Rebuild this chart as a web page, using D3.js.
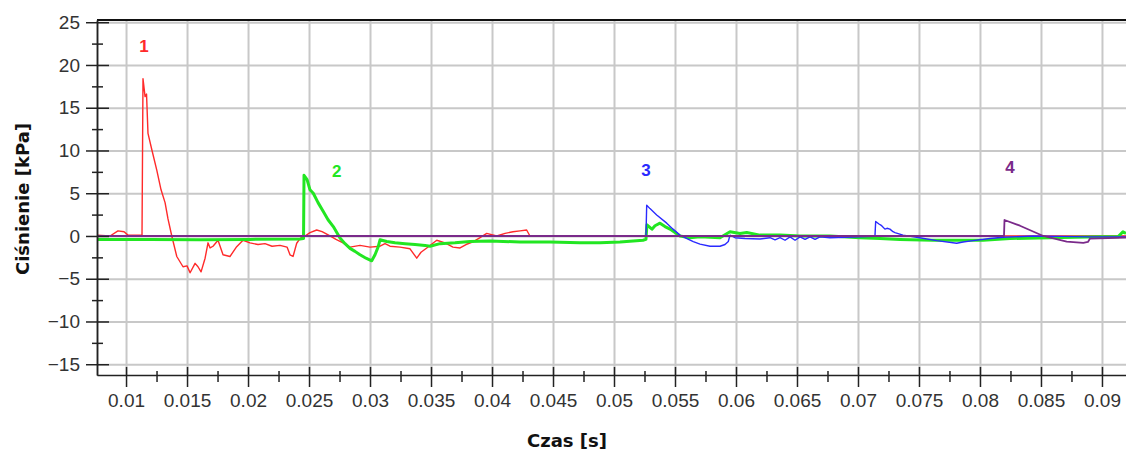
<!DOCTYPE html>
<html>
<head>
<meta charset="utf-8">
<script src="https://cdn.jsdelivr.net/npm/d3@7"></script>
<style>
  html, body { margin: 0; padding: 0; background: #fff; }
  .tick text { font-family: "Liberation Sans", Arial, sans-serif; font-size: 19px; fill: #333; }
  .axis path, .axis line { stroke: #222; stroke-width: 1.5; }
  .grid line { stroke: #c8c8c8; stroke-width: 2; }
  .grid path { display: none; }
  .title { font-family: "DejaVu Sans", sans-serif; font-weight: bold; font-size: 18px; fill: #111; }
  .tag { font-family: "Liberation Sans", Arial, sans-serif; font-weight: bold; font-size: 17px; }
</style>
</head>
<body>
<div id="chart"></div>
<script>
// time [s] and pressure [kPa] for each measuring point
const t1 = [0.00762, 0.00869, 0.00934, 0.00984, 0.01016, 0.01115, 0.01131, 0.01139, 0.01156, 0.01168, 0.01180, 0.01213, 0.01252, 0.01287, 0.01320, 0.01344, 0.01375, 0.01416, 0.01467, 0.01500, 0.01525, 0.01566, 0.01590, 0.01615, 0.01648, 0.01672, 0.01689, 0.01713, 0.01754, 0.01795, 0.01852, 0.01907, 0.01959, 0.02016, 0.02082, 0.02139, 0.02197, 0.02262, 0.02320, 0.02344, 0.02369, 0.02399, 0.02426, 0.02467, 0.02508, 0.02563, 0.02607, 0.02672, 0.02721, 0.02779, 0.02836, 0.02918, 0.03000, 0.03082, 0.03123, 0.03164, 0.03246, 0.03328, 0.03383, 0.03418, 0.03465, 0.03547, 0.03615, 0.03680, 0.03738, 0.03787, 0.03844, 0.03902, 0.03957, 0.04039, 0.04107, 0.04172, 0.04230, 0.04284, 0.04311, 0.09197];
const p1 = [0.1, 0.0, 0.6, 0.5, 0.1, 0.1, 0.1, 18.4, 16.3, 16.6, 12.0, 10.0, 7.7, 5.4, 3.9, 2.0, 0.0, -2.4, -3.6, -3.5, -4.3, -3.2, -3.6, -4.2, -2.6, -0.8, -1.4, -1.2, -0.5, -2.2, -2.4, -1.25, -0.5, -0.8, -1.0, -0.9, -1.2, -1.1, -1.3, -2.2, -2.4, -0.85, -0.3, 0.0, 0.4, 0.7, 0.5, 0.0, -0.4, -0.8, -1.3, -1.1, -1.3, -1.2, -0.9, -1.2, -1.3, -1.5, -2.6, -1.9, -1.4, -0.5, -0.8, -1.3, -1.4, -1.0, -0.7, -0.2, 0.3, 0.0, 0.3, 0.5, 0.6, 0.7, 0.0, 0.0];

const t2 = [0.00762, 0.01197, 0.01607, 0.02016, 0.02426, 0.02455, 0.02459, 0.02484, 0.02508, 0.02535, 0.02574, 0.02617, 0.02656, 0.02699, 0.02754, 0.02795, 0.02836, 0.02877, 0.02918, 0.02967, 0.03014, 0.03041, 0.03066, 0.03082, 0.03137, 0.03205, 0.03287, 0.03369, 0.03451, 0.03492, 0.03574, 0.03697, 0.03820, 0.03984, 0.04230, 0.04475, 0.04721, 0.04885, 0.05049, 0.05238, 0.05262, 0.05270, 0.05311, 0.05336, 0.05377, 0.05418, 0.05459, 0.05541, 0.05623, 0.05705, 0.05869, 0.05951, 0.06033, 0.06088, 0.06197, 0.06361, 0.06525, 0.06770, 0.07016, 0.07180, 0.07344, 0.07615, 0.07836, 0.08025, 0.08246, 0.08574, 0.08984, 0.09131, 0.09172, 0.09197];
const p2 = [-0.4, -0.4, -0.45, -0.4, -0.35, -0.3, 7.1, 6.6, 5.4, 5.0, 3.9, 2.85, 1.9, 1.1, -0.25, -0.9, -1.45, -1.8, -2.2, -2.6, -2.9, -2.2, -1.3, -0.45, -0.65, -0.8, -0.9, -1.0, -1.1, -1.2, -0.9, -0.8, -0.65, -0.6, -0.7, -0.7, -0.8, -0.8, -0.7, -0.5, -0.4, 1.3, 0.8, 1.2, 1.5, 1.1, 0.8, 0.0, -0.2, -0.1, -0.2, 0.5, 0.3, 0.4, 0.1, 0.1, 0.0, 0.0, -0.2, -0.3, -0.4, -0.5, -0.5, -0.5, -0.3, -0.2, -0.1, -0.1, 0.5, 0.3];

const t3 = [0.00762, 0.05262, 0.05268, 0.05295, 0.05350, 0.05432, 0.05484, 0.05541, 0.05598, 0.05650, 0.05705, 0.05787, 0.05869, 0.05910, 0.05937, 0.05951, 0.05992, 0.06074, 0.06197, 0.06279, 0.06320, 0.06361, 0.06402, 0.06443, 0.06484, 0.06525, 0.06566, 0.06607, 0.06648, 0.06689, 0.06770, 0.06893, 0.07016, 0.07139, 0.07145, 0.07172, 0.07194, 0.07221, 0.07238, 0.07262, 0.07287, 0.07303, 0.07369, 0.07481, 0.07645, 0.07809, 0.07861, 0.07943, 0.08082, 0.08189, 0.08434, 0.08656, 0.08902, 0.09197];
const p3 = [0.0, 0.0, 3.6, 3.2, 2.45, 1.5, 0.8, 0.1, -0.3, -0.65, -0.95, -1.2, -1.2, -1.0, -0.65, 0.1, -0.2, -0.3, -0.35, -0.2, -0.45, -0.2, -0.5, -0.1, -0.5, -0.1, -0.4, -0.1, -0.4, -0.1, -0.2, -0.15, -0.1, -0.05, 1.7, 1.4, 1.2, 0.8, 0.9, 0.8, 0.5, 0.4, 0.1, -0.15, -0.55, -0.85, -0.7, -0.55, -0.3, -0.15, 0.0, -0.05, -0.1, -0.1];

const t4 = [0.00762, 0.08197, 0.08201, 0.08328, 0.08519, 0.08711, 0.08847, 0.08885, 0.08902, 0.09197];
const p4 = [0.0, 0.0, 1.87, 1.2, 0.0, -0.65, -0.8, -0.7, -0.3, -0.2];

const seriesNames = ['1', '2', '3', '4'];
const seriesColors = ['#ff2a2a', '#22e622', '#2a2aff', '#7a2a8a'];
// where the number tags sit (time, pressure)
const tagT = [0.01148, 0.02727, 0.05262, 0.08246];
const tagP = [21.5, 6.9, 7.0, 7.4];

const xTicks = [0.01, 0.015, 0.02, 0.025, 0.03, 0.035, 0.04, 0.045, 0.05, 0.055, 0.06, 0.065, 0.07, 0.075, 0.08, 0.085, 0.09];
const xTickLabels = ['0.01', '0.015', '0.02', '0.025', '0.03', '0.035', '0.04', '0.045', '0.05', '0.055', '0.06', '0.065', '0.07', '0.075', '0.08', '0.085', '0.09'];
const xMinor = [0.0125, 0.0175, 0.0225, 0.0275, 0.0325, 0.0375, 0.0425, 0.0475, 0.0525, 0.0575, 0.0625, 0.0675, 0.0725, 0.0775, 0.0825, 0.0875];
const yTicks = [-15, -10, -5, 0, 5, 10, 15, 20, 25];
const yMinor = [-12.5, -7.5, -2.5, 2.5, 7.5, 12.5, 17.5, 22.5];

const width = 1126, height = 451;
const margin = { top: 20, right: 0, bottom: 76, left: 97 };
const innerW = width - margin.left - margin.right;
const innerH = height - margin.top - margin.bottom;

const svg = d3.select('#chart').append('svg')
  .attr('width', width)
  .attr('height', height);

const g = svg.append('g')
  .attr('transform', `translate(${margin.left},${margin.top})`);

const x = d3.scaleLinear().domain([0.00762, 0.09197]).range([0, innerW]);
const y = d3.scaleLinear().domain([-16.26, 25.26]).range([innerH, 0]);

// Grid
g.append('g')
  .attr('class', 'grid')
  .attr('transform', `translate(0,${innerH})`)
  .call(d3.axisBottom(x).tickValues(xTicks).tickSize(-innerH).tickFormat(''));
g.append('g')
  .attr('class', 'grid')
  .call(d3.axisLeft(y).tickValues(yTicks).tickSize(-innerW).tickFormat(''));

// Top border
g.append('line')
  .attr('x1', 0).attr('x2', innerW)
  .attr('y1', y(y.domain()[1])).attr('y2', y(y.domain()[1]))
  .attr('stroke', '#111').attr('stroke-width', 2);

// Lines
g.append('clipPath').attr('id', 'clip')
  .append('rect').attr('width', innerW).attr('height', innerH);

const line = d3.line()
  .x(d => x(d[0]))
  .y(d => y(d[1]));

const allT = [t1, t2, t3, t4];
const allP = [p1, p2, p3, p4];
const widths = [1.4, 3, 1.4, 1.8];

allT.forEach((ts, i) => {
  g.append('path')
    .datum(ts.map((t, j) => [t, allP[i][j]]))
    .attr('clip-path', 'url(#clip)')
    .attr('fill', 'none')
    .attr('stroke', seriesColors[i])
    .attr('stroke-width', widths[i])
    .attr('stroke-linejoin', 'round')
    .attr('d', line);
});

// Tags
seriesNames.forEach((name, i) => {
  g.append('text')
    .attr('class', 'tag')
    .attr('x', x(tagT[i]))
    .attr('y', y(tagP[i]))
    .attr('text-anchor', 'middle')
    .attr('fill', seriesColors[i])
    .text(name);
});

// Axes
g.append('g')
  .attr('class', 'axis')
  .call(d3.axisLeft(y).tickValues(yTicks).tickSize(11).tickSizeOuter(0).tickPadding(6));
g.append('g')
  .attr('class', 'axis')
  .call(d3.axisRight(y).tickValues(yTicks).tickSize(12).tickSizeOuter(0).tickFormat(''));
g.append('g')
  .attr('class', 'axis')
  .call(d3.axisLeft(y).tickValues(yMinor).tickSize(5).tickSizeOuter(0).tickFormat(''))
  .call(a => a.select('.domain').remove());
g.append('g')
  .attr('class', 'axis')
  .call(d3.axisRight(y).tickValues(yMinor).tickSize(6).tickSizeOuter(0).tickFormat(''))
  .call(a => a.select('.domain').remove());

g.append('g')
  .attr('class', 'axis')
  .attr('transform', `translate(0,${innerH})`)
  .call(d3.axisBottom(x).tickValues(xTicks).tickSize(12).tickSizeOuter(0).tickPadding(7)
    .tickFormat((d, i) => xTickLabels[i]));
g.append('g')
  .attr('class', 'axis')
  .attr('transform', `translate(0,${innerH})`)
  .call(d3.axisTop(x).tickValues(xTicks).tickSize(8).tickSizeOuter(0).tickFormat(''))
  .call(a => a.select('.domain').remove());
g.append('g')
  .attr('class', 'axis')
  .attr('transform', `translate(0,${innerH})`)
  .call(d3.axisBottom(x).tickValues(xMinor).tickSize(7).tickSizeOuter(0).tickFormat(''))
  .call(a => a.select('.domain').remove());
g.append('g')
  .attr('class', 'axis')
  .attr('transform', `translate(0,${innerH})`)
  .call(d3.axisTop(x).tickValues(xMinor).tickSize(4).tickSizeOuter(0).tickFormat(''))
  .call(a => a.select('.domain').remove());

// Titles
svg.append('text')
  .attr('class', 'title')
  .attr('transform', `translate(29,199) rotate(-90)`)
  .attr('text-anchor', 'middle')
  .text('Ciśnienie [kPa]');

svg.append('text')
  .attr('class', 'title')
  .attr('x', 567)
  .attr('y', 447)
  .attr('text-anchor', 'middle')
  .text('Czas [s]');
</script>
</body>
</html>
